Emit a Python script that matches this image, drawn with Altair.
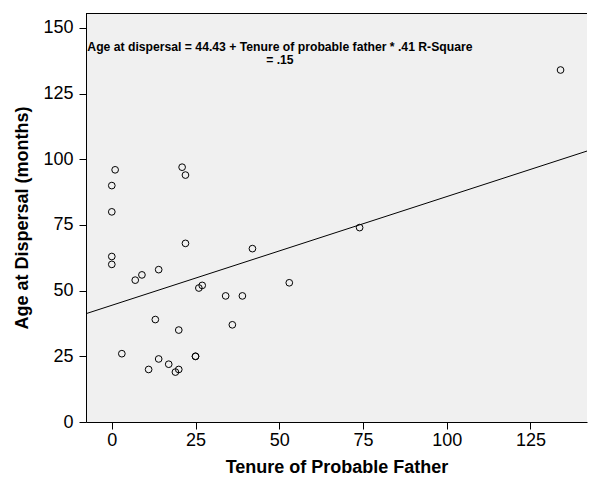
import altair as alt
import pandas as pd

tenure = [0, 0, 0, 0, 1, 3, 7, 9, 11, 13, 14, 14, 17, 19, 20, 20, 21, 22, 22,
          25, 25, 26, 27, 34, 36, 39, 42, 53, 74, 134]
age = [90, 80, 63, 60, 96, 26, 54, 56, 20, 39, 58, 24, 22, 19, 20, 35, 97, 94, 68,
       25, 25, 51, 52, 48, 37, 48, 66, 53, 74, 134]
x_ticks = [0, 25, 50, 75, 100, 125]
y_ticks = [0, 25, 50, 75, 100, 125, 150]
annotation = ["Age at dispersal = 44.43 + Tenure of probable father * .41 R-Square", "= .15"]

df = pd.DataFrame({"tenure": tenure, "age": age})

W = 501
H = 409
x_dom = [-7.7, 141.9]
y_dom = [0, 155.7]

xs = alt.Scale(domain=x_dom, nice=False, zero=False)
ys = alt.Scale(domain=y_dom, nice=False, zero=False)

x_axis = alt.Axis(values=x_ticks, title="Tenure of Probable Father", grid=False,
                  labelPadding=2, titlePadding=9)
y_axis = alt.Axis(values=y_ticks, title="Age at Dispersal (months)", grid=False,
                  labelPadding=6, titlePadding=11)

base = alt.Chart(df)

points = base.mark_point(shape="circle", filled=False, color="black", size=45,
                         strokeWidth=1, opacity=1).encode(
    x=alt.X("tenure:Q", scale=xs, axis=x_axis),
    y=alt.Y("age:Q", scale=ys, axis=y_axis),
)

line = base.transform_regression("tenure", "age", extent=x_dom).mark_line(
    color="black", strokeWidth=1, clip=True).encode(
    x=alt.X("tenure:Q", scale=xs),
    y=alt.Y("age:Q", scale=ys),
)

top_border = base.mark_rule(color="black", strokeWidth=1).encode(
    x=alt.value(0), x2=alt.value(W), y=alt.value(0.5)
)

text = alt.Chart(pd.DataFrame({"a": [0]})).mark_text(
    text=annotation, font="Liberation Sans Narrow, Liberation Sans", fontWeight="bold",
    fontSize=12.2, lineHeight=13, align="center", baseline="middle", color="black"
).encode(x=alt.datum(50.2, scale=xs), y=alt.datum(142.6, scale=ys))

chart = alt.layer(line, points, top_border, text).properties(
    width=W, height=H,
    padding={"left": 5, "top": 5, "right": 0, "bottom": 0},
    background="white",
).configure_view(
    fill="#f0f0f0", stroke=None
).configure_axis(
    domainColor="black", tickColor="black", tickSize=7, domainWidth=1, tickWidth=1,
    labelFont="Liberation Sans", labelFontSize=18, labelColor="black",
    titleFont="Liberation Sans", titleFontSize=18, titleFontWeight="bold", titleColor="black",
)

chart.save("out.html", embed_options={"renderer": "svg", "actions": False})
